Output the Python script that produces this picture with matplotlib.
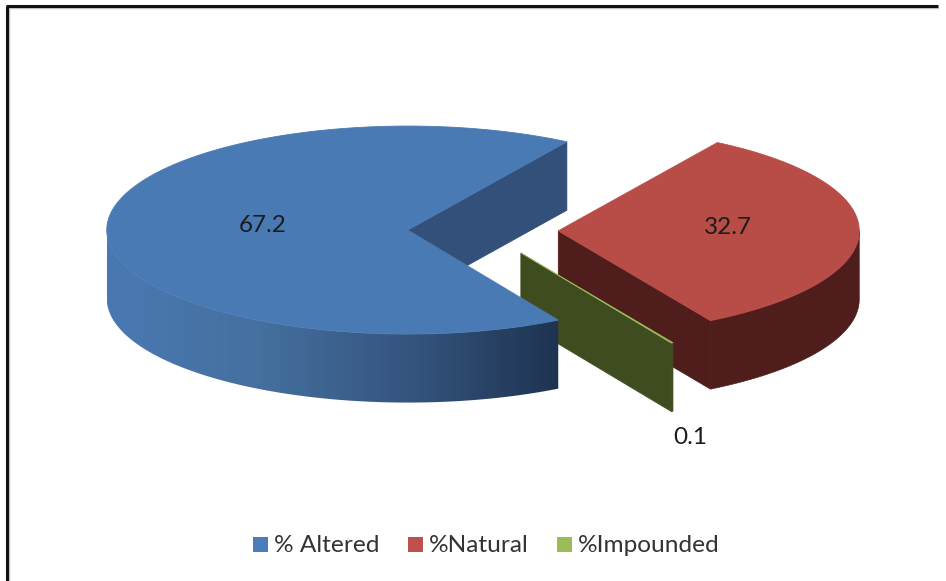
import numpy as np
import matplotlib.pyplot as plt
from matplotlib.colors import LinearSegmentedColormap
from matplotlib.patches import Polygon, Rectangle

# Share of each class, in percent
labels = ['% Altered', '%Natural', '%Impounded']
values = [67.2, 32.7, 0.1]
value_text = ['67.2', '32.7', '0.1']

top_colors = ['#4a7ab4', '#b84d48', '#9bbb59']
cut_colors = ['#32507a', '#4f1e1c', '#3f4c20']
legend_colors = ['#4a7dbb', '#c0504d', '#9bbb59']

# Pie shape in figure pixels
cx, cy = 483, 230.5
rx, ry = 301, 104
depth = 68.5
explode = 0.25
start_angle = -60

plt.rcParams['font.family'] = ['Lato', 'DejaVu Sans']

fig = plt.figure(figsize=(9.46, 5.81), dpi=100, facecolor='white')
ax = fig.add_axes([0, 0, 1, 1])


def rim(center, a, b, n=200):
    # points on the top ellipse between two angles in degrees
    t = np.radians(np.linspace(a, b, n))
    return np.column_stack([center[0] + rx * np.cos(t), center[1] - ry * np.sin(t)])


def drop(pts):
    return pts + np.array([0, depth])


def side_polygon(center, a, b):
    # outer wall, only the front half of the ellipse can be seen
    top = rim(center, min(a, 0), max(b, -180))
    return np.vstack([top, drop(top)[::-1]])


# slice angles, going clockwise from the start angle
spans = np.array(values) / sum(values) * 360
ends = start_angle - np.cumsum(spans)
starts = ends + spans

slices = []
for s, e in zip(starts, ends):
    if s < -180:
        s, e = s + 360, e + 360
    mid = np.radians((s + e) / 2)
    center = (cx + explode * rx * np.cos(mid), cy - explode * ry * np.sin(mid))
    slices.append((center, s, e))

blue_side = LinearSegmentedColormap.from_list('blue', ['#4a79b2', '#45709f', '#35557f', '#1e3350'])

# draw order: red at the back, then the green sliver, blue in front
layer = [5, 1, 3]

for i, (center, s, e) in enumerate(slices):
    apex = np.array(center)
    z = layer[i]

    # the cut face that looks towards the viewer
    edge = rim(center, e, e, 2)[0]
    face = [apex, edge, drop(edge), drop(apex)]
    ax.add_patch(Polygon(face, closed=True, fc=cut_colors[i], ec=cut_colors[i], lw=0.5, zorder=z))

    wall = side_polygon(center, s, e)
    if i == 0:
        # blue wall gets a horizontal shading
        patch = Polygon(wall, closed=True, fc='none', ec='none')
        ax.add_patch(patch)
        im = ax.imshow(np.linspace(0, 1, 256).reshape(1, -1), cmap=blue_side, aspect='auto',
                       extent=[wall[:, 0].min(), wall[:, 0].max(), wall[:, 1].max(), wall[:, 1].min()],
                       zorder=z + 0.5)
        im.set_clip_path(patch)
    else:
        ax.add_patch(Polygon(wall, closed=True, fc=cut_colors[i], ec=cut_colors[i], lw=0.5, zorder=z + 0.5))

    top = np.vstack([apex, rim(center, s, e)])
    ax.add_patch(Polygon(top, closed=True, fc=top_colors[i], ec=top_colors[i], lw=0.6, zorder=z + 1))

ax.set_xlim(0, 946)
ax.set_ylim(581, 0)
ax.axis('off')

# value labels
label_pos = [(263, 225.5), (728, 227.5), (690, 438)]
for txt, (x, y) in zip(value_text, label_pos):
    ax.text(x, y, txt, fontsize=17.5, color='#1c1c1c', ha='center', va='center', zorder=20)

# legend
legend_x = [253, 408, 557]
for name, col, x in zip(labels, legend_colors, legend_x):
    ax.add_patch(Rectangle((x, 537), 15, 15, fc=col, ec='none', zorder=20))
    ax.text(x + 21, 545, name, fontsize=17.6, color='#333333', ha='left', va='center', zorder=20)

# outer frame, open on the right and at the bottom
ax.plot([7, 7], [581, 6], color='#111111', lw=2.2, zorder=30, solid_capstyle='butt')
ax.plot([6, 938], [6, 6], color='#111111', lw=2.2, zorder=30, solid_capstyle='butt')
ax.plot([9, 9], [581, 8], color='#c4c4c4', lw=1, zorder=29)
ax.plot([9, 938], [8, 8], color='#c4c4c4', lw=1, zorder=29)

fig.savefig('out.png', dpi=100, facecolor='white')
